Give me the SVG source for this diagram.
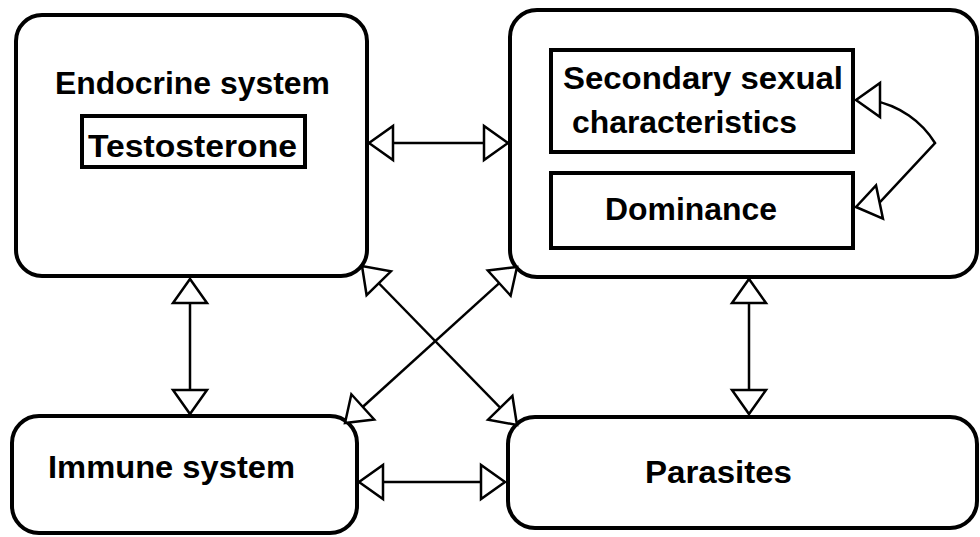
<svg xmlns="http://www.w3.org/2000/svg" width="980" height="537" viewBox="0 0 980 537">
<style>
.node{fill:#fff;stroke:#000;stroke-width:4}
.box{fill:#fff;stroke:#000;stroke-width:4}
.lbl{font-family:"Liberation Sans",Arial,sans-serif;font-weight:bold;font-size:31px;fill:#000}
.conn{fill:none;stroke:#000;stroke-width:2.5;marker-start:url(#tri);marker-end:url(#tri)}
</style>
<defs>
<marker id="tri" markerUnits="userSpaceOnUse" viewBox="0 0 30 40" refX="27" refY="20" markerWidth="30" markerHeight="40" orient="auto-start-reverse">
<path d="M27,20 L3,3 L3,37 Z" fill="#fff" stroke="#000" stroke-width="2.5" stroke-linejoin="miter"/>
</marker>
</defs>
<rect width="980" height="537" fill="#fff"/>
<g id="endocrine">
<rect class="node" x="16" y="15" width="351" height="261" rx="26"/>
<text class="lbl" x="55" y="94" textLength="275" lengthAdjust="spacingAndGlyphs">Endocrine system</text>
<g id="testosterone">
<rect class="box" x="82" y="116" width="223" height="51"/>
<text class="lbl" x="88" y="157" textLength="209" lengthAdjust="spacingAndGlyphs">Testosterone</text>
</g>
</g>
<g id="traits">
<rect class="node" x="510" y="10" width="467" height="267" rx="27"/>
<g id="secondary">
<rect class="box" x="551" y="50" width="302" height="102"/>
<text class="lbl" x="563" y="89" textLength="280" lengthAdjust="spacingAndGlyphs">Secondary sexual</text>
<text class="lbl" x="572" y="133" textLength="225" lengthAdjust="spacingAndGlyphs">characteristics</text>
</g>
<g id="dominance">
<rect class="box" x="551" y="173" width="302" height="75"/>
<text class="lbl" x="605" y="220" textLength="172" lengthAdjust="spacingAndGlyphs">Dominance</text>
</g>
</g>
<g id="immune">
<rect class="node" x="12" y="416" width="345" height="117" rx="27"/>
<text class="lbl" x="48" y="478" textLength="247" lengthAdjust="spacingAndGlyphs">Immune system</text>
</g>
<g id="parasites">
<rect class="node" x="508" y="417" width="469" height="111" rx="27"/>
<text class="lbl" x="645" y="483" textLength="147" lengthAdjust="spacingAndGlyphs">Parasites</text>
</g>
<g id="connectors">
<line class="conn" x1="369" y1="143" x2="508" y2="143"/>
<line class="conn" x1="190" y1="279" x2="190" y2="414"/>
<line class="conn" x1="749" y1="279" x2="749" y2="414"/>
<line class="conn" x1="359" y1="482" x2="505" y2="482"/>
<line class="conn" x1="362" y1="266" x2="517" y2="425"/>
<line class="conn" x1="517" y1="267" x2="345" y2="423"/>
<path class="conn" d="M856,100 L870,100 C900,105 922,122 935,143 L880,202 L856,207"/>
</g>
</svg>
